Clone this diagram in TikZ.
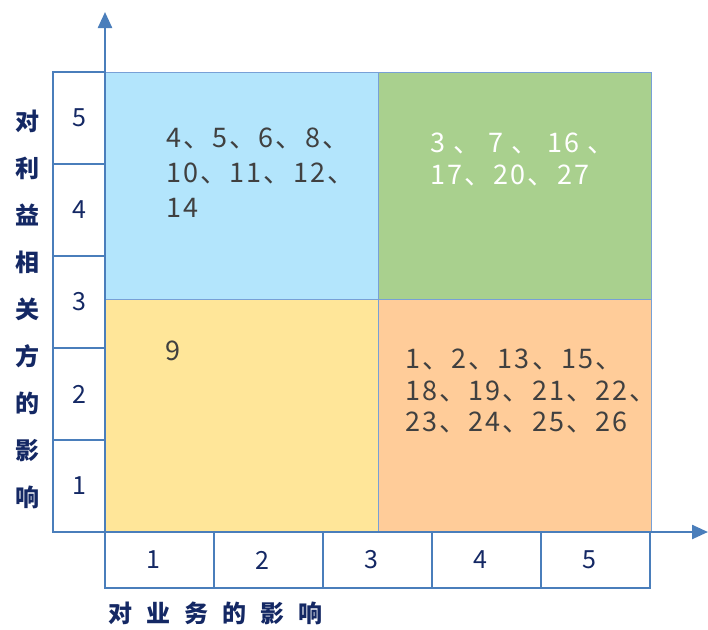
\documentclass[tikz,border=0pt]{standalone}
\usepackage{fontspec}
\setmainfont{Noto Sans CJK SC}
\newfontfamily\itemfont[LetterSpace=8]{Noto Sans CJK SC}
\usepackage{tikz}
\usetikzlibrary{positioning,arrows.meta}

\definecolor{axisblue}{RGB}{74,126,187}
\definecolor{edgeblue}{RGB}{120,160,214}
\definecolor{navy}{RGB}{20,40,100}
\definecolor{numgray}{RGB}{64,64,64}
\definecolor{fillblue}{RGB}{179,229,252}
\definecolor{fillgreen}{RGB}{169,208,142}
\definecolor{fillyellow}{RGB}{255,230,153}
\definecolor{fillorange}{RGB}{255,204,153}

\begin{document}
\begin{tikzpicture}[
x=1pt, y=-1pt,
quad/.style={rectangle, draw=edgeblue, line width=1.2pt, minimum width=273pt, minimum height=227pt, inner sep=0pt, anchor=north west},
scalebox/.style={rectangle, draw=axisblue, line width=1.8pt, inner sep=0pt, font=\fontsize{25}{28}\selectfont, text=navy},
items/.style={align=left, anchor=north west, inner sep=0pt, font=\itemfont\fontsize{27}{35}\selectfont, text=numgray},
axislabel/.style={font=\fontsize{24}{47}\selectfont\bfseries, text=navy, inner sep=0pt},
axisline/.style={draw=axisblue, line width=2.4pt, -{Triangle[width=14pt,length=16pt]}},
]
\useasboundingbox (0,0) rectangle (708,629);

%Quadrants
\node[quad, fill=fillblue] (q_tl) at (105,72) {};
\node[quad, fill=fillgreen] (q_tr) at (378,72) {};
\node[quad, fill=fillyellow, minimum height=233pt] (q_bl) at (105,299) {};
\node[quad, fill=fillorange, minimum height=233pt] (q_br) at (378,299) {};

%Scale boxes
\foreach \i in {1,...,5} {
  \node[scalebox, minimum width=52pt, minimum height=92pt] (ys\i) at (79,{532-92*(\i-0.5)}) {\i};
  \node[scalebox, minimum width=109pt, minimum height=56pt] (xs\i) at ({105+109*(\i-0.5)},560) {\hspace*{-12pt}\i};
}

%Axes
\coordinate (origin) at (105,532);
\coordinate (ytop) at (105,12);
\coordinate (xend) at (708,532);
\draw[axisline] (origin) -- (ytop);
\draw[axisline] (origin) -- (xend);

%Items
\node[items] (items_tl) at (166,128) {4、5、6、8、\\10、11、12、\\14};
\node[items, text=white, font=\itemfont\fontsize{27}{32}\selectfont] (items_tr) at (430,133) {3 、 7 、 16 、\\17、20、27};
\node[items] (items_bl) at (165,341) {9};
\node[items, font=\itemfont\fontsize{27}{31.5}\selectfont] (items_br) at (405,349) {1、2、13、15、\\18、19、21、22、\\23、24、25、26};

%Axis labels
\node[axislabel, align=center] (ylabel) at (27,309) {对\\利\\益\\相\\关\\方\\的\\影\\响};
\node[axislabel, anchor=west] (xlabel) at (108,613) {对\hspace{14pt}业\hspace{14pt}务\hspace{14pt}的\hspace{14pt}影\hspace{14pt}响};
\end{tikzpicture}
\end{document}
